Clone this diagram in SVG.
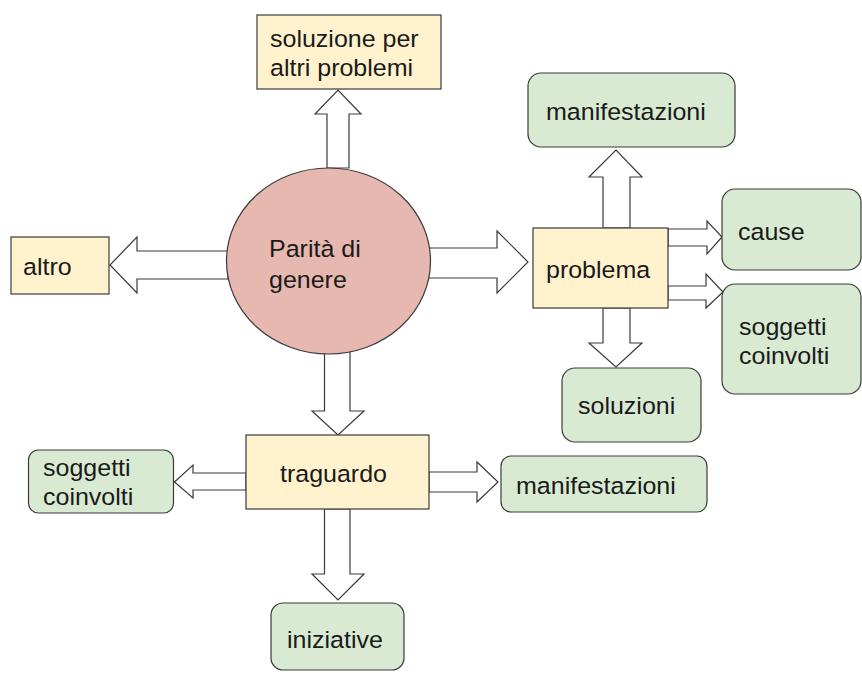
<svg xmlns="http://www.w3.org/2000/svg" width="862" height="673" viewBox="0 0 862 673">
<style>
.bg{fill:#ffffff}
.y{fill:#fff2cc;stroke:#3a3a3a;stroke-width:1.2}
.g{fill:#d9ead3;stroke:#3a3a3a;stroke-width:1.2}
.c{fill:#e6b8af;stroke:#3a3a3a;stroke-width:1.2}
.a{fill:#ffffff;stroke:#3a3a3a;stroke-width:1.2;stroke-linejoin:miter}
text{font-family:"Liberation Sans",Arial,sans-serif;font-size:24.5px;fill:#1a1a1a}
</style>
<rect class="bg" x="0" y="0" width="862" height="673"/>
<g id="connectors">
<polygon class="a" points="327,168 327,114 315,114 338,90 361,114 349,114 349,168"/>
<polygon class="a" points="228,251 137,251 137,237 110,265 137,293 137,279 228,279"/>
<polygon class="a" points="428,248 497,248 497,231 528,262 497,293 497,278 428,278"/>
<polygon class="a" points="603,228 603,177 589,177 616,150 642,177 630,177 630,228"/>
<polygon class="a" points="668,229 707,229 707,221 722,237 707,254 707,246 668,246"/>
<polygon class="a" points="668,286 706,286 706,274 723,292 706,308 706,300 668,300"/>
<polygon class="a" points="603,308 603,343 589,343 616,367 642,343 630,343 630,308"/>
<polygon class="a" points="324.5,350 324.5,411 312,411 338,435 364,411 350,411 350,350"/>
<polygon class="a" points="246,473 193,473 193,465 174.5,482 193,498 193,490 246,490"/>
<polygon class="a" points="429,472 477,472 477,462 498,482 477,502 477,492 429,492"/>
<polygon class="a" points="324.5,509 324.5,574 312,574 338,600 364,574 350,574 350,509"/>
</g>
<g id="n-soluzione-altri">
<rect class="y" x="257" y="15" width="184" height="74"/>
<text x="270" y="47" textLength="148.7" lengthAdjust="spacingAndGlyphs">soluzione per</text>
<text x="270" y="76" textLength="143.1" lengthAdjust="spacingAndGlyphs">altri problemi</text>
</g>
<g id="n-altro">
<rect class="y" x="11" y="237" width="98" height="57"/>
<text x="23" y="275" textLength="48.6" lengthAdjust="spacingAndGlyphs">altro</text>
</g>
<g id="n-parita">
<ellipse class="c" cx="328.5" cy="261" rx="102" ry="93"/>
<text x="269" y="257" textLength="91.7" lengthAdjust="spacingAndGlyphs">Parità di</text>
<text x="269" y="288" textLength="77.8" lengthAdjust="spacingAndGlyphs">genere</text>
</g>
<g id="n-manifestazioni-1">
<rect class="g" x="528" y="73" width="207" height="74" rx="13"/>
<text x="546" y="119.5" textLength="159.8" lengthAdjust="spacingAndGlyphs">manifestazioni</text>
</g>
<g id="n-problema">
<rect class="y" x="533" y="228" width="135" height="80"/>
<text x="546" y="278" textLength="104.2" lengthAdjust="spacingAndGlyphs">problema</text>
</g>
<g id="n-cause">
<rect class="g" x="722" y="189" width="139" height="81" rx="13"/>
<text x="738" y="239.5" textLength="66.7" lengthAdjust="spacingAndGlyphs">cause</text>
</g>
<g id="n-soggetti-1">
<rect class="g" x="722" y="284" width="139" height="110" rx="13"/>
<text x="739" y="335" textLength="87.6" lengthAdjust="spacingAndGlyphs">soggetti</text>
<text x="739" y="364" textLength="90.3" lengthAdjust="spacingAndGlyphs">coinvolti</text>
</g>
<g id="n-soluzioni">
<rect class="g" x="562" y="368" width="139" height="74" rx="13"/>
<text x="578" y="414" textLength="97.3" lengthAdjust="spacingAndGlyphs">soluzioni</text>
</g>
<g id="n-traguardo">
<rect class="y" x="246" y="435" width="183" height="74"/>
<text x="280" y="481.5" textLength="107" lengthAdjust="spacingAndGlyphs">traguardo</text>
</g>
<g id="n-soggetti-2">
<rect class="g" x="28.5" y="450" width="145" height="63" rx="10"/>
<text x="43" y="476" textLength="87.6" lengthAdjust="spacingAndGlyphs">soggetti</text>
<text x="43" y="505" textLength="90.3" lengthAdjust="spacingAndGlyphs">coinvolti</text>
</g>
<g id="n-manifestazioni-2">
<rect class="g" x="501" y="456" width="206" height="56" rx="10"/>
<text x="516" y="494" textLength="159.8" lengthAdjust="spacingAndGlyphs">manifestazioni</text>
</g>
<g id="n-iniziative">
<rect class="g" x="271" y="603" width="133" height="67" rx="12"/>
<text x="287" y="648" textLength="95.9" lengthAdjust="spacingAndGlyphs">iniziative</text>
</g>
</svg>
